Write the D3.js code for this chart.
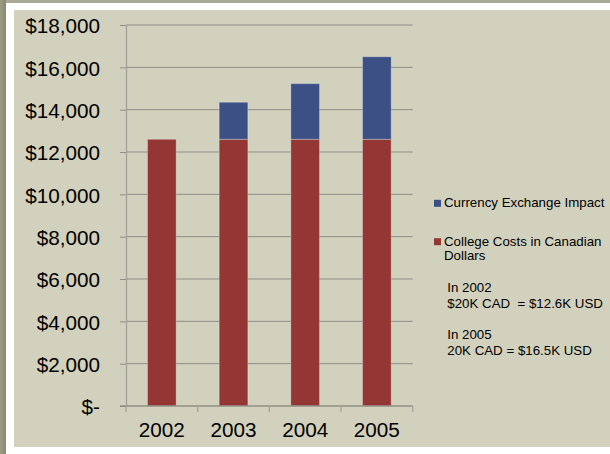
<!DOCTYPE html>
<html>
<head>
<meta charset="utf-8">
<script src="https://cdn.jsdelivr.net/npm/d3@7"></script>
<style>
  html, body { margin: 0; padding: 0; background: #ffffff; }
  svg { display: block; font-family: "Liberation Sans", Arial, sans-serif; }
</style>
</head>
<body>
<svg id="chart" width="610" height="454"></svg>
<script>
// Tuition paid in USD: Canadian-dollar base cost plus exchange-rate effect
const years = ["2002", "2003", "2004", "2005"];
const collegeCostsCAD = [12600, 12600, 12600, 12600];
const currencyImpact = [0, 1750, 2630, 3900];
const yTicks = [0, 2000, 4000, 6000, 8000, 10000, 12000, 14000, 16000, 18000];
const seriesNames = ["Currency Exchange Impact", "College Costs in Canadian Dollars"];
const seriesColors = ["#3d5085", "#943634"];
const notes = [
  ["In 2002", "$20K CAD  = $12.6K USD"],
  ["In 2005", "20K CAD = $16.5K USD"]
];

const svg = d3.select("#chart");
const W = 610, H = 454;

// Slide frame: olive edge, white border, beige panel
const defs = svg.append("defs");
const edge = defs.append("linearGradient").attr("id", "edge").attr("x1", 0).attr("x2", 1);
edge.append("stop").attr("offset", 0).attr("stop-color", "#9d9c84");
edge.append("stop").attr("offset", 1).attr("stop-color", "#8a896f");
svg.append("rect").attr("width", W).attr("height", H).attr("fill", "#ffffff");
svg.append("rect").attr("x", 0).attr("y", 0).attr("width", W).attr("height", 3).attr("fill", "#aaa995");
svg.append("rect").attr("x", 0).attr("y", 0).attr("width", 6).attr("height", H).attr("fill", "url(#edge)");
svg.append("rect").attr("x", 14).attr("y", 10).attr("width", W - 14).attr("height", 437).attr("fill", "#d2d1bd");

// Scales
const plot = { left: 126, right: 412.7, top: 25, bottom: 406 };
const x = d3.scaleBand().domain(years).range([plot.left, plot.right])
  .paddingInner(0.6).paddingOuter(0.3);
const y = d3.scaleLinear().domain([0, 18000]).range([plot.bottom, plot.top]);

// Horizontal gridlines
svg.append("g").selectAll("line").data(yTicks.filter(v => v > 0)).join("line")
  .attr("x1", plot.left).attr("x2", plot.right)
  .attr("y1", d => y(d)).attr("y2", d => y(d))
  .attr("stroke", "#8f8f86").attr("stroke-width", 1);

// Stacked bars
const rows = years.map((yr, i) => ({ year: yr, base: collegeCostsCAD[i], fx: currencyImpact[i] }));
const stack = d3.stack().keys(["base", "fx"])(rows);
const colorByKey = { base: seriesColors[1], fx: seriesColors[0] };
svg.append("g").selectAll("g").data(stack).join("g")
  .attr("fill", d => colorByKey[d.key])
  .selectAll("rect").data(d => d.filter(p => p[1] > p[0])).join("rect")
  .attr("x", d => x(d.data.year))
  .attr("width", x.bandwidth())
  .attr("y", d => y(d[1]))
  .attr("height", d => y(d[0]) - y(d[1]))
  .attr("stroke", "rgba(255,255,255,0.28)")
  .attr("stroke-width", 1);

// Y axis
const yAxis = svg.append("g").attr("transform", `translate(${plot.left},0)`)
  .call(d3.axisLeft(y).tickValues(yTicks).tickSize(6).tickSizeOuter(0).tickPadding(20)
    .tickFormat(v => v === 0 ? "$-" : "$" + d3.format(",")(v)));
yAxis.select(".domain").attr("stroke", "#a3a39b").attr("stroke-width", 1.3);
yAxis.selectAll(".tick line").attr("stroke", "#8f8f86");
yAxis.selectAll(".tick text").attr("font-size", "20.7px").attr("fill", "#000").attr("dy", "0.37em")
  .attr("font-family", "'Liberation Sans', Arial, sans-serif");

// X axis: baseline, category labels, boundary ticks
svg.append("line").attr("x1", plot.left - 6).attr("x2", plot.right)
  .attr("y1", y(0)).attr("y2", y(0)).attr("stroke", "#8f8f86").attr("stroke-width", 1.3);
const xAxis = svg.append("g").attr("transform", `translate(0,${y(0)})`)
  .call(d3.axisBottom(x).tickSize(0).tickPadding(16.6));
xAxis.select(".domain").remove();
xAxis.selectAll(".tick text").attr("font-size", "20.7px").attr("fill", "#000")
  .attr("font-family", "'Liberation Sans', Arial, sans-serif");
const bounds = d3.range(years.length + 1).map(i => x.range()[0] + i * x.step());
svg.append("g").selectAll("line").data(bounds).join("line")
  .attr("x1", d => d).attr("x2", d => d)
  .attr("y1", y(0)).attr("y2", y(0) + 6)
  .attr("stroke", "#a3a39b").attr("stroke-width", 1.3);

// Legend
const legend = svg.append("g").attr("font-size", "13.3px").attr("fill", "#000");
const legendItems = [
  { name: [seriesNames[0]], color: seriesColors[0], y: 207.3 },
  { name: ["College Costs in Canadian", "Dollars"], color: seriesColors[1], y: 245.7 }
];
legendItems.forEach(item => {
  legend.append("rect").attr("x", 434).attr("y", item.y - 7.5).attr("width", 7).attr("height", 7)
    .attr("fill", item.color);
  item.name.forEach((t, j) => {
    legend.append("text").attr("x", 444).attr("y", item.y + j * 14.3).text(t);
  });
});

// Notes under the legend
const noteY = [291.7, 339.3];
notes.forEach((lines, i) => {
  lines.forEach((t, j) => {
    legend.append("text").attr("x", 447.3).attr("y", noteY[i] + j * 16)
      .style("white-space", "pre").text(t);
  });
});
</script>
</body>
</html>
